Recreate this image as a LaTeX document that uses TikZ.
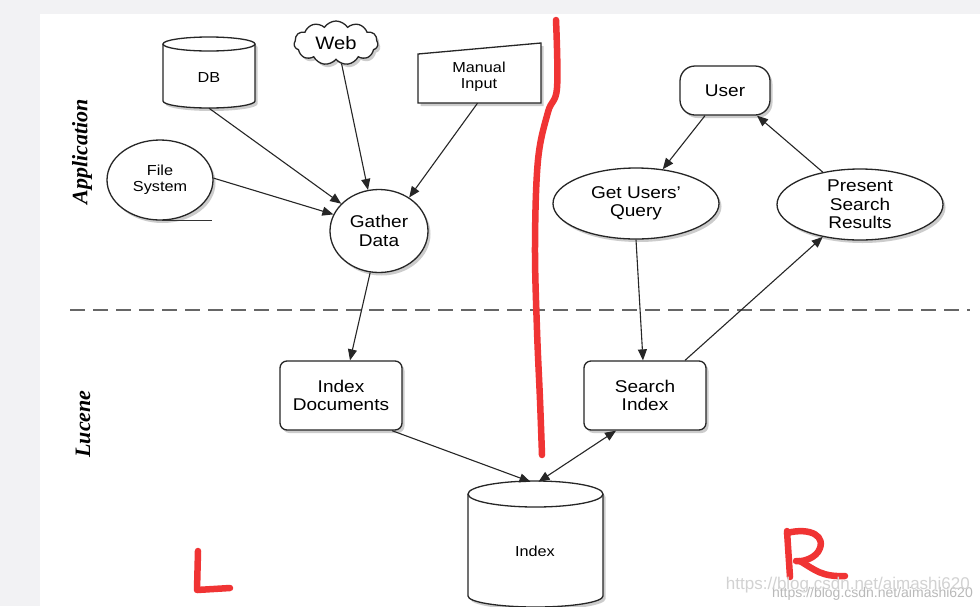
\documentclass[tikz,border=0pt]{standalone}
\usepackage{fontspec}
\setmainfont[FakeStretch=1.12]{Liberation Sans}
\newfontfamily\plainfont{Liberation Sans}
\newfontfamily\lblfont{Liberation Serif}
\usetikzlibrary{shapes.geometric,shapes.symbols,shadows,arrows.meta,calc}
\definecolor{redmark}{HTML}{F03434}
\definecolor{bggray}{HTML}{F2F2F4}
\begin{document}
\begin{tikzpicture}[x=1pt,y=-1pt,
  base/.style={draw=black!85, line width=1.3pt, fill=white, align=center, inner sep=0pt,
    font=\fontsize{17}{18.5}\selectfont},
  shad/.style={drop shadow={shadow xshift=2.5pt,shadow yshift=-3pt,opacity=0.4}},
  rbox/.style={base, shad, rectangle, rounded corners=7pt, minimum width=122pt, minimum height=69pt},
  ell/.style={base, shad, ellipse},
  small/.style={font=\fontsize{14.5}{16}\selectfont},
  ghost/.style={inner sep=0pt, align=center},
  arr/.style={line width=1.1pt, draw=black!85, -{Triangle[length=11pt,width=9pt]}},
  darr/.style={line width=1.1pt, draw=black!85, {Triangle[length=11pt,width=9pt]}-{Triangle[length=11pt,width=9pt]}},
  outline/.style={draw=black!85, line width=1.3pt},
  redpen/.style={draw=redmark, line width=6.5pt, line cap=round, line join=round},
  side/.style={font=\lblfont\bfseries\itshape\fontsize{22}{22}\selectfont, rotate=90, inner sep=0pt}
]
\useasboundingbox (0,0) rectangle (980,606);
\fill[bggray] (0,0) rectangle (980,606);
\fill[white] (40,14) rectangle (980,606);

% side labels
\node[side] (app) at (82,152) {Application};
\node[side] (luc) at (83,424) {Lucene};

% dashed separator
\draw[draw=black!60, line width=2.5pt, dash pattern=on 15pt off 8pt] (70,310) -- (970,310);

% DB cylinder
\path[shad, fill=white] (163,44) -- (163,101) arc[start angle=180,end angle=360,x radius=46pt,y radius=7pt] -- (255,44) arc[start angle=0,end angle=180,x radius=46pt,y radius=7pt] -- cycle;
\draw[outline] (163,44) -- (163,101) arc[start angle=180,end angle=360,x radius=46pt,y radius=7pt] -- (255,44);
\draw[outline] (209,44) ellipse[x radius=46pt,y radius=7pt];
\node[ghost, minimum width=92pt, minimum height=71pt] (db) at (209,72.5) {};
\node[ghost, small] (dbtext) at (209,78) {DB};

% Index cylinder
\path[shad, fill=white] (468,494) -- (468,596) arc[start angle=180,end angle=360,x radius=67.5pt,y radius=11pt] -- (603,494) arc[start angle=0,end angle=180,x radius=67.5pt,y radius=13pt] -- cycle;
\draw[outline] (468,494) -- (468,596) arc[start angle=180,end angle=360,x radius=67.5pt,y radius=11pt] -- (603,494);
\draw[outline] (535.5,494) ellipse[x radius=67.5pt,y radius=13pt];
\node[ghost, minimum width=135pt, minimum height=125pt] (index) at (535.5,543.5) {};
\node[ghost, small] (indextext) at (535,551) {Index};

% Manual input
\path[shad, fill=white] (418,54) -- (541,43) -- (541,103) -- (418,103) -- cycle;
\draw[outline] (418,54) -- (541,43) -- (541,103) -- (418,103) -- cycle;
\node[ghost, minimum width=123pt, minimum height=60pt] (manual) at (479.5,73) {};
\node[ghost, small] (manualtext) at (479,77) {Manual\\Input};

% Web cloud
\node[base, shad, cloud, cloud puffs=11, cloud puff arc=115, aspect=2, minimum width=84pt, minimum height=44pt, font=\fontsize{18}{18}\selectfont] (web) at (336,43) {Web};

% other nodes
\node[ell, small, minimum width=106pt, minimum height=80pt] (fs) at (160,180) {File\\System};
\draw[line width=1pt, draw=black!80] (162,220) -- (212,220);
\node[ell, minimum width=98pt, minimum height=83pt] (gather) at (379,231) {Gather\\Data};
\node[rbox] (idxdoc) at (341,395.5) {Index\\Documents};
\node[rbox] (search) at (645,395.5) {Search\\Index};
\node[base, shad, rectangle, rounded corners=15pt, minimum width=90pt, minimum height=49pt] (user) at (725,90.5) {User};
\node[ell, minimum width=166pt, minimum height=71pt] (getq) at (636,203.5) {Get Users'\\Query};
\node[ell, minimum width=166pt, minimum height=71pt] (present) at (860,204.5) {Present\\Search\\Results};

% connectors
\draw[arr] (db.south) -- (gather);
\draw[arr] (web.285) -- (gather.105);
\draw[arr] ($(manual.south)+(-2,0)$) -- (gather.48);
\draw[arr] (fs.2) -- (gather.160);
\draw[arr] (gather.258) -- ($(idxdoc.north)+(9,0)$);
\draw[arr] ($(idxdoc.south)+(51,0)$) -- ($(index.north)+(-5,1)$);
\draw[darr] ($(search.south)+(-29,0)$) -- ($(index.north)+(3,1)$);
\draw[arr] (getq.south) -- ($(search.north)+(-2,0)$);
\draw[arr] ($(search.north)+(40,0)$) -- (present.221);
\draw[arr] ($(user.south)+(-20,0)$) -- (getq.52);
\draw[arr] (present.139) -- ($(user.south)+(32,0)$);

% red annotations
\draw[redpen] plot[smooth, tension=0.6] coordinates {(556,20) (557,88) (548,112) (538,160) (535,245) (537,330) (540,400) (542,455)};
\draw[redpen] (198,551) -- (197,590) -- (230,588);
\draw[redpen] (787,531) -- (790,577);
\draw[redpen] (787,533) .. controls (810,527) and (828,536) .. (818,552) .. controls (812,560) and (800,562) .. (796,561);
\draw[redpen] (800,561) .. controls (815,570) and (822,577) .. (845,576);

% watermark
\node[ghost, text=gray!55, font=\plainfont\fontsize{14}{14}\selectfont, anchor=east] (wm2) at (973,594) {https://blog.csdn.net/aimashi620};
\node[ghost, text=gray!35, font=\plainfont\fontsize{17}{17}\selectfont, anchor=east] (wm1) at (970,585) {https://blog.csdn.net/aimashi620};
\end{tikzpicture}
\end{document}
